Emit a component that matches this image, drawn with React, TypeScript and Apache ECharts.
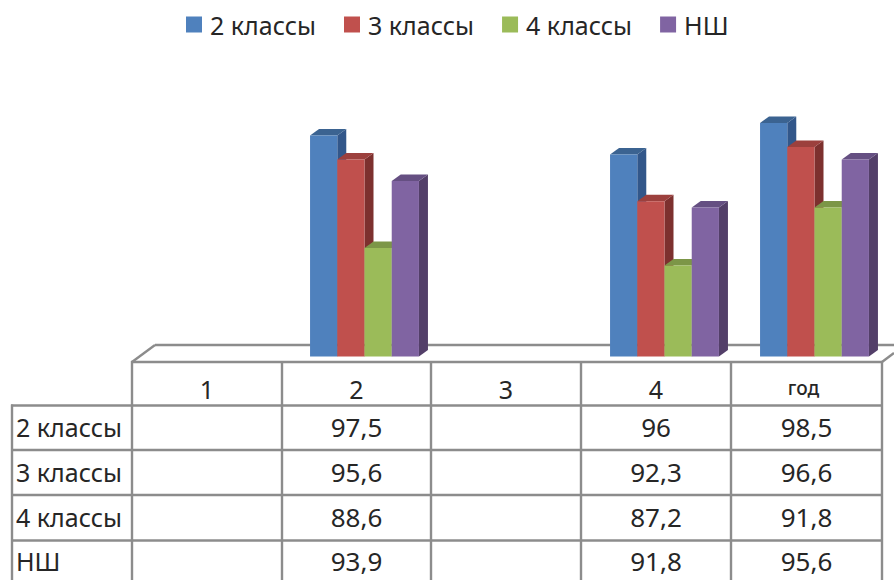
import React, { useEffect, useRef } from "react";
import * as echarts from "echarts";

const categories = ["1", "2", "3", "4", "год"];
const seriesNames = ["2 классы", "3 классы", "4 классы", "НШ"];
const values2 = [null, 97.5, null, 96, 98.5];
const values3 = [null, 95.6, null, 92.3, 96.6];
const values4 = [null, 88.6, null, 87.2, 91.8];
const valuesNs = [null, 93.9, null, 91.8, 95.6];
const allValues = [values2, values3, values4, valuesNs];
const frontColors = ["#4F81BD", "#C0504D", "#9BBB59", "#8064A2"];
const topColors = ["#3B6391", "#9C403D", "#7C9647", "#654F82"];
const sideColors = ["#32578A", "#7D302E", "#667C3B", "#533F69"];

const FONT = "'Noto Sans', 'Open Sans', sans-serif";
const TEXT = "#262626";
const LINE = "#8C8C8C";
const LW = 2.4;
const colEdges = [132, 282, 431, 581, 731, 882];
const rowEdges = [405.5, 450, 495, 540.5];
const rowCenters = [427, 472, 517, 561];

function hLine(x1: number, x2: number, y: number) {
  return { type: "line", shape: { x1, y1: y, x2, y2: y }, style: { stroke: LINE, lineWidth: LW }, silent: true };
}
function vLine(x: number, y1: number, y2: number) {
  return { type: "line", shape: { x1: x, y1, x2: x, y2 }, style: { stroke: LINE, lineWidth: LW }, silent: true };
}
function label(text: string, x: number, y: number, align: string, fontSize = 26, fontWeight = "normal") {
  return {
    type: "text",
    x,
    y,
    silent: true,
    style: { text, fill: TEXT, font: `${fontWeight} ${fontSize}px ${FONT}`, align, verticalAlign: "middle" },
  };
}

function tableElements() {
  const els: any[] = [];
  els.push(hLine(155, 894, 345));
  els.push({ type: "line", shape: { x1: 132, y1: 362, x2: 155, y2: 345 }, style: { stroke: LINE, lineWidth: LW }, silent: true });
  els.push({ type: "line", shape: { x1: 882, y1: 362, x2: 894, y2: 353 }, style: { stroke: LINE, lineWidth: LW }, silent: true });
  els.push(hLine(131, 883, 362));
  rowEdges.forEach((y) => els.push(hLine(11, 883, y)));
  colEdges.forEach((x) => els.push(vLine(x, 361, 580)));
  els.push(vLine(12, 404.5, 580));
  categories.forEach((c, i) => {
    const cx = (colEdges[i] + colEdges[i + 1]) / 2;
    els.push(c === "год" ? label(c, cx - 3, 388, "center", 19, "500") : label(c, cx, 389, "center", 25));
  });
  seriesNames.forEach((n, r) => {
    els.push(label(n, 16, rowCenters[r], "left", 25));
    allValues[r].forEach((v, i) => {
      if (v == null) return;
      const cx = (colEdges[i] + colEdges[i + 1]) / 2;
      els.push(label(String(v).replace(".", ","), cx, rowCenters[r], "center"));
    });
  });
  return els;
}

const DX = 9;
const DY = 6.5;

function makeRender(s: number) {
  return (_: any, api: any) => {
    const idx = api.value(0);
    const val = api.value(1);
    const top = api.coord([idx, val]);
    const base = api.coord([idx, 80]);
    const bw = api.size([1, 0])[0] * 0.1815;
    const x0 = top[0] + (s - 2) * bw;
    const x1 = x0 + bw;
    const ty = top[1];
    const by = base[1];
    return {
      type: "group",
      children: [
        { type: "polygon", shape: { points: [[x1, ty], [x1 + DX, ty - DY], [x1 + DX, by - DY], [x1, by]] }, style: { fill: sideColors[s] } },
        { type: "polygon", shape: { points: [[x0, ty], [x0 + DX, ty - DY], [x1 + DX, ty - DY], [x1, ty]] }, style: { fill: topColors[s] } },
        { type: "rect", shape: { x: x0, y: ty, width: bw, height: by - ty }, style: { fill: frontColors[s] } },
      ],
    };
  };
}

export default function App() {
  const ref = useRef<HTMLDivElement>(null);
  useEffect(() => {
    document.body.style.margin = "0";
    const chart = echarts.init(ref.current!, undefined, { renderer: "svg" });
    chart.setOption({
      animation: false,
      backgroundColor: "#ffffff",
      legend: {
        data: seriesNames,
        left: 181,
        top: 7,
        icon: "rect",
        itemWidth: 16,
        itemHeight: 16,
        itemGap: 28,
        selectedMode: false,
        textStyle: { fontFamily: FONT, fontSize: 25, color: TEXT, width: 107, padding: [0, 0, 0, 3] },
      },
      grid: { left: 139.5, width: 750, top: 104, height: 252.5 },
      xAxis: { type: "category", data: categories, show: false },
      yAxis: { type: "value", min: 80, max: 100, show: false },
      graphic: { elements: tableElements() },
      series: seriesNames.map((name, s) => ({
        type: "custom",
        name,
        clip: false,
        itemStyle: { color: frontColors[s] },
        encode: { x: 0, y: 1 },
        data: allValues[s].map((v, i) => [i, v]).filter((d) => d[1] != null),
        renderItem: makeRender(s),
      })),
    });
    return () => chart.dispose();
  }, []);
  return <div ref={ref} style={{ position: "fixed", left: 0, top: 0, width: 894, height: 580 }} />;
}
